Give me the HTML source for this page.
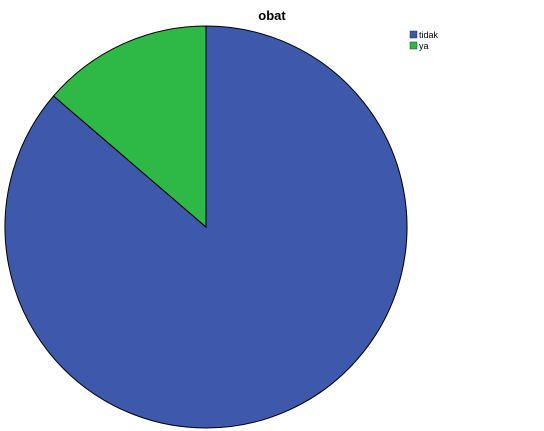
<!DOCTYPE html>
<html><head><meta charset="utf-8"><style>
body{margin:0;background:#fff;width:544px;height:431px;overflow:hidden}
svg{display:block;font-family:"Liberation Sans",Arial,sans-serif}
</style></head><body>
<svg width="544" height="431">
<text x="272" y="20" text-anchor="middle" font-size="13" font-weight="bold" fill="#000">obat</text>
<g id="slices"></g>
<g id="legend"></g>
</svg>
<script>
const categories = ["tidak", "ya"];
const values = [86.3, 13.7];
const colors = ["#3e58ac", "#2eb845"];
const cx = 206, cy = 227, r = 201;
const ns = "http://www.w3.org/2000/svg";
const total = values.reduce((a, b) => a + b, 0);
const slices = document.getElementById("slices");
// SPSS draws clockwise from 12 o'clock; last category ends at 12 => draw counterclockwise-ish ordering
let start = 0;
for (let i = 0; i < values.length; i++) {
  const a0 = start, a1 = start + values[i] / total * 2 * Math.PI;
  start = a1;
  const x0 = cx + r * Math.sin(a0), y0 = cy - r * Math.cos(a0);
  const x1 = cx + r * Math.sin(a1), y1 = cy - r * Math.cos(a1);
  const large = (a1 - a0) > Math.PI ? 1 : 0;
  const p = document.createElementNS(ns, "path");
  p.setAttribute("d", `M${cx},${cy} L${x0},${y0} A${r},${r} 0 ${large} 1 ${x1},${y1} Z`);
  p.setAttribute("fill", colors[i]);
  p.setAttribute("stroke", "#000");
  p.setAttribute("stroke-width", "1");
  
  
  slices.appendChild(p);
}
const legend = document.getElementById("legend");
for (let i = 0; i < categories.length; i++) {
  const rc = document.createElementNS(ns, "rect");
  rc.setAttribute("x", 410); rc.setAttribute("y", 31 + i * 11);
  rc.setAttribute("width", 7); rc.setAttribute("height", 7);
  rc.setAttribute("fill", colors[i]); rc.setAttribute("stroke", "#333"); rc.setAttribute("stroke-width", "0.5");
  
  
  legend.appendChild(rc);
  const t = document.createElementNS(ns, "text");
  t.setAttribute("x", 419); t.setAttribute("y", 38 + i * 11);
  t.setAttribute("font-size", "9"); t.setAttribute("fill", "#000");
  t.textContent = categories[i];
  
  
  legend.appendChild(t);
}
</script>
</body></html>
